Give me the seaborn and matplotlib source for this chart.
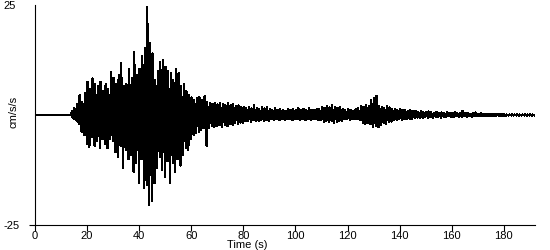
import matplotlib
matplotlib.use("Agg")
import matplotlib.pyplot as plt
import seaborn as sns
import pandas as pd

# ---- data (cm/s/s, one entry per second of record) ----
seconds = list(range(192))

# tallest upward swing within each second
pos_peaks = [
    0, 0, 0, 0, 0, 0, 0, 0, 0, 0, 0, 0, 0, 0,
    0.8, 1.5, 2.5, 4.5, 3.0, 5.0, 7.6, 6.0, 8.3, 7.0,
    6.5, 7.5, 5.5, 7.0, 6.0, 9.8, 8.5, 7.0, 9.0, 11.7,
    6.5, 7.0, 10.5, 8.5, 14.4, 9.0, 10.5, 13.5, 15.2, 24.6,
    16.3, 14.0, 8.0, 10.0, 12.0, 12.5, 11.0, 10.0, 9.5, 8.0,
    10.5, 9.5, 6.5, 7.0, 5.5, 4.5, 4.0, 3.5, 3.8, 4.0,
    3.4, 4.3, 3.0, 2.8, 2.6, 2.8, 2.4, 2.8, 2.5, 2.2,
    2.7, 2.3, 2.5, 2.0, 2.2, 1.8, 1.9, 1.6, 1.8, 1.5,
    2.3, 1.6, 1.4, 1.8, 1.5, 1.7, 1.3, 1.2, 1.5, 1.1,
    1.3, 1.2, 1.0, 1.4, 1.1, 1.3, 1.2, 1.5, 1.1, 1.4,
    1.2, 1.5, 1.2, 1.1, 1.3, 1.4, 1.8, 1.6, 2.0, 1.7,
    2.2, 1.8, 1.6, 1.9, 1.3, 1.1, 1.4, 1.2, 1.0, 1.3,
    1.5, 2.1, 1.8, 2.2, 2.0, 3.4, 3.8, 4.3, 2.0, 1.8,
    1.6, 2.0, 1.7, 1.3, 1.4, 1.2, 1.3, 1.1, 1.2, 1.0,
    1.1, 0.8, 0.9, 0.7, 0.8, 0.7, 0.6, 0.8, 0.6, 0.5,
    0.7, 0.5, 0.6, 0.4, 0.6, 0.5, 0.4, 0.6, 0.4, 0.5,
    0.9, 0.4, 0.5, 0.3, 0.4, 0.6, 0.3, 0.4, 0.3, 0.3,
    0.2, 0.2, 0.2, 0.3, 0.2, 0.1, 0.2, 0.1, 0.1, 0.2,
    0.1, 0.1, 0.1, 0.1, 0.1, 0.1, 0.1, 0.1,
]

# deepest downward swing within each second
neg_peaks = [
    0, 0, 0, 0, 0, 0, 0, 0, 0, 0, 0, 0, 0, 0,
    -0.8, -1.2, -2.0, -3.8, -4.5, -6.5, -7.2, -5.0, -7.0, -6.0,
    -7.5, -5.5, -6.5, -7.5, -5.5, -6.0, -8.5, -9.5, -7.0, -12.0,
    -8.0, -10.0, -9.0, -13.0, -11.0, -15.5, -10.0, -16.6, -16.0, -20.5,
    -19.6, -15.5, -12.0, -9.5, -12.5, -14.0, -10.5, -15.5, -11.0, -13.0,
    -10.0, -11.5, -9.0, -7.5, -8.0, -5.5, -4.5, -4.0, -3.8, -3.5,
    -3.0, -7.0, -3.0, -2.5, -2.8, -2.6, -2.3, -2.8, -2.2, -2.5,
    -2.0, -2.2, -1.9, -2.1, -1.7, -1.8, -1.4, -1.3, -1.5, -1.2,
    -1.4, -1.3, -1.1, -1.4, -1.2, -1.3, -1.0, -1.1, -0.9, -1.2,
    -1.0, -1.1, -0.9, -1.0, -1.2, -0.9, -1.0, -1.1, -0.9, -1.2,
    -1.0, -1.1, -1.0, -0.9, -1.1, -1.2, -1.5, -1.4, -1.6, -1.3,
    -1.7, -1.5, -1.4, -1.3, -1.0, -0.9, -1.1, -1.0, -0.9, -1.0,
    -1.2, -1.8, -2.0, -1.7, -2.1, -2.8, -2.6, -2.8, -2.2, -1.8,
    -2.1, -1.6, -1.5, -1.1, -1.2, -1.0, -1.1, -0.9, -1.0, -0.8,
    -0.9, -0.7, -0.6, -0.7, -0.6, -0.5, -0.7, -0.5, -0.6, -0.4,
    -0.5, -0.6, -0.4, -0.5, -0.3, -0.5, -0.4, -0.3, -0.5, -0.4,
    -0.3, -0.4, -0.3, -0.4, -0.3, -0.2, -0.3, -0.2, -0.2, -0.2,
    -0.2, -0.1, -0.2, -0.1, -0.1, -0.2, -0.1, -0.1, -0.1, -0.1,
    -0.1, -0.1, -0.1, -0.1, -0.1, -0.1, -0.1, -0.1,
]

# typical (dense core) swing within each second
core_swing = [
    0, 0, 0, 0, 0, 0, 0, 0, 0, 0, 0, 0, 0, 0,
    0.6, 1.0, 1.5, 2.0, 2.5, 3.0,
    4.0, 4.0, 4.5, 4.5, 4.0, 4.5, 4.0, 4.5, 4.0, 4.5,
    5.0, 5.0, 5.0, 5.5, 5.0, 5.5, 6.0, 6.0, 6.5, 7.0,
    7.5, 8.0, 8.5, 9.0, 8.5, 8.0, 6.5, 6.5, 6.5, 6.5,
    6.0, 6.0, 5.5, 5.5, 5.0, 5.0, 4.0, 3.5, 3.5, 3.0,
    2.8, 2.6, 2.5, 2.4, 2.2, 2.0, 1.9, 1.8, 1.7, 1.7,
    1.6, 1.6, 1.5, 1.4, 1.4, 1.3, 1.3, 1.2, 1.2, 1.1,
    1.0, 1.0, 1.0, 1.0, 1.0, 1.0, 1.0, 1.0, 1.0, 1.0,
    0.8, 0.8, 0.8, 0.8, 0.8, 0.8, 0.8, 0.8, 0.8, 0.8,
    0.8, 0.8, 0.8, 0.8, 0.8, 0.8, 0.8, 0.8, 0.8, 0.8,
    1.0, 1.1, 1.1, 1.1, 1.1, 1.0, 1.0, 1.0, 0.8, 0.7,
    0.7, 0.7, 0.7, 0.8, 0.9, 1.2, 1.3, 1.4, 1.4, 1.6,
    1.7, 1.6, 1.4, 1.3, 1.2, 1.1, 1.0, 0.9, 0.8, 0.8,
    0.7, 0.7, 0.6, 0.6, 0.6, 0.5, 0.5, 0.5, 0.45, 0.45,
    0.3, 0.3, 0.3, 0.3, 0.3, 0.3, 0.3, 0.3, 0.3, 0.3,
    0.2, 0.2, 0.2, 0.2, 0.2, 0.2, 0.2, 0.2, 0.2, 0.2,
    0.1, 0.1, 0.1, 0.1, 0.1, 0.1, 0.1, 0.1, 0.1, 0.1,
    0.05, 0.05, 0.05, 0.05, 0.05, 0.05, 0.05, 0.05, 0.05, 0.05,
    0.05, 0.05,
]

x_ticks = [0, 20, 40, 60, 80, 100, 120, 140, 160, 180]
y_ticks = [-25, 25]
y_tick_labels = ["-25", "25"]
x_label = "Time (s)"
y_label = "cm/s/s"

# ---- build trace table: each second swings to its peak, through the core, to its trough ----
rows = [(0.0, 0.0)]
for s, p, n, c in zip(seconds, pos_peaks, neg_peaks, core_swing):
    rows.append((s + 0.125, p))
    rows.append((s + 0.375, -c))
    rows.append((s + 0.625, c))
    rows.append((s + 0.875, n))
rows.append((192.0, 0.0))
trace = pd.DataFrame(rows, columns=["time", "accel"])

# ---- plot ----
sns.set_theme(style="white")
plt.rcParams["font.family"] = ["Liberation Sans", "DejaVu Sans"]
plt.rcParams["font.size"] = 8

fig = plt.figure(figsize=(5.5, 2.5), dpi=100)
ax = fig.add_axes([35 / 550, 25 / 250, 500 / 550, 220 / 250])

sns.lineplot(data=trace, x="time", y="accel", ax=ax, color="black",
             linewidth=0.9, estimator=None, sort=False, antialiased=False)

ax.set_xlim(0, 192)
ax.set_ylim(-25, 25)

for side in ("top", "right"):
    ax.spines[side].set_visible(False)
for side in ("left", "bottom"):
    ax.spines[side].set_color("black")
    ax.spines[side].set_linewidth(0.8)

ax.set_xticks(x_ticks)
ax.set_xticklabels([str(v) for v in x_ticks])
ax.tick_params(axis="x", direction="out", length=4, width=0.8, color="black",
               pad=0, labelsize=8, labelcolor="black", bottom=True)

ax.set_yticks(y_ticks)
ax.set_yticklabels(y_tick_labels)
ax.tick_params(axis="y", direction="out", length=4, width=0.8, color="black",
               pad=19, labelsize=8, labelcolor="black", left=True)
for lab in ax.get_yticklabels():
    lab.set_horizontalalignment("left")
# only the bottom y tick shows a tick mark
ax.yaxis.get_major_ticks()[1].tick1line.set_visible(False)

ax.set_xlabel(x_label, fontsize=8, color="black")
ax.xaxis.set_label_coords(0.424, -0.066)
ax.set_ylabel(y_label, fontsize=8, color="black")
ax.yaxis.set_label_coords(-0.032, 0.515)

ax.grid(False)
fig.savefig("out.png", dpi=100, facecolor="white")
